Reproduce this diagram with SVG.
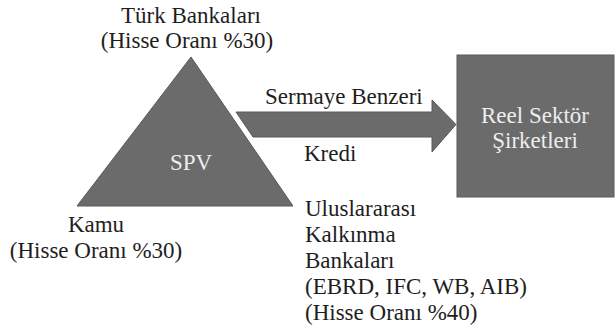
<svg xmlns="http://www.w3.org/2000/svg" width="615" height="336" viewBox="0 0 615 336">
<style>
.t{font-family:"Liberation Serif","DejaVu Serif",serif;font-size:23px;fill:#1e1e1e}
.w{font-family:"Liberation Serif","DejaVu Serif",serif;font-size:23px;fill:#eeeeee}
.s{fill:#6b6b6b;stroke:#5a5a5a;stroke-width:1}
</style>
<rect width="615" height="336" fill="#ffffff"/>
<g id="connectors">
<path class="s" d="M236,112 L432,112 L432,100 L456,124.5 L432,152 L432,137 L253,137 Z"/>
<text class="t" x="265" y="104">Sermaye Benzeri</text>
<text class="t" x="304" y="161">Kredi</text>
</g>
<g id="spv">
<polygon class="s" points="191,57 293,206 77,206"/>
<text class="w" x="191" y="170" text-anchor="middle">SPV</text>
</g>
<g id="turk">
<text class="t" x="191" y="23" text-anchor="middle">Türk Bankaları</text>
<text class="t" x="187" y="48" text-anchor="middle">(Hisse Oranı %30)</text>
</g>
<g id="reel">
<rect class="s" x="457" y="55" width="157" height="142"/>
<text class="w" x="535" y="123" text-anchor="middle">Reel Sektör</text>
<text class="w" x="535" y="148" text-anchor="middle">Şirketleri</text>
</g>
<g id="kamu">
<text class="t" x="96" y="232" text-anchor="middle">Kamu</text>
<text class="t" x="96" y="258" text-anchor="middle">(Hisse Oranı %30)</text>
</g>
<g id="ukb">
<text class="t" x="305" y="216">Uluslararası</text>
<text class="t" x="305" y="242">Kalkınma</text>
<text class="t" x="305" y="268">Bankaları</text>
<text class="t" x="305" y="294">(EBRD, IFC, WB, AIB)</text>
<text class="t" x="305" y="320">(Hisse Oranı %40)</text>
</g>
</svg>
